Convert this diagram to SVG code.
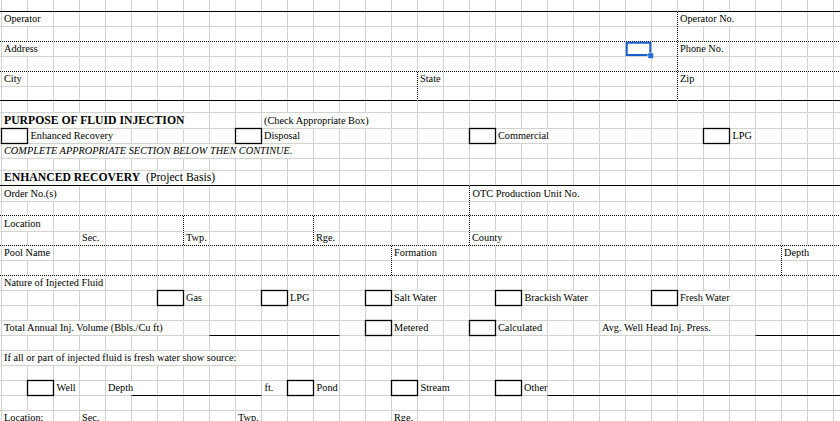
<svg xmlns="http://www.w3.org/2000/svg" width="840" height="421" viewBox="0 0 840 421">
<style>
.grid{stroke:#d2d2d2;stroke-width:1;fill:none}
.mask{fill:#fff}
.solid{stroke:#000;stroke-width:1.2;fill:none}
.ul{stroke:#000;stroke-width:1;fill:none}
.dotw{stroke:#fff;stroke-width:1;fill:none}
.dot{stroke:#000;stroke-width:1;stroke-dasharray:1 1;fill:none}
.box{stroke:#000;stroke-width:1.3;fill:none}
.t{font-family:"Liberation Serif","Times New Roman",serif;font-size:10.3px;fill:#000}
.b{font-family:"Liberation Serif","Times New Roman",serif;font-size:11.7px;font-weight:bold;fill:#000}
.r{font-weight:normal}
.i{font-style:italic}
</style>
<rect width="840" height="421" fill="#fff"/>
<g id="grid">
<path class="grid" d="M1.5 0V421M27.5 0V421M53.5 0V421M79.5 0V421M105.5 0V421M131.5 0V421M157.5 0V421M183.5 0V421M209.5 0V421M235.5 0V421M261.5 0V421M287.5 0V421M313.5 0V421M339.5 0V421M365.5 0V421M391.5 0V421M417.5 0V421M443.5 0V421M469.5 0V421M495.5 0V421M521.5 0V421M547.5 0V421M573.5 0V421M599.5 0V421M625.5 0V421M651.5 0V421M677.5 0V421M703.5 0V421M729.5 0V421M755.5 0V421M781.5 0V421M807.5 0V421M833.5 0V421"/>
<path class="grid" d="M0 26.5H840M0 56.5H840M0 86.5H840M0 112.5H840M0 128.5H840M0 143.5H840M0 158.5H840M0 170.5H840M0 201.5H840M0 231.5H840M0 260.5H840M0 290.5H840M0 305.5H840M0 320.5H840M0 335.5H840M0 350.5H840M0 365.5H840M0 380.5H840M0 395.5H840M0 410.5H840"/>
</g>
<g id="overflow-masks">
<rect class="mask" x="2" y="12" width="51" height="14"/>
<rect class="mask" x="678" y="12" width="77" height="14"/>
<rect class="mask" x="2" y="42" width="51" height="14"/>
<rect class="mask" x="678" y="42" width="51" height="14"/>
<rect class="mask" x="2" y="113" width="207" height="15"/>
<rect class="mask" x="262" y="113" width="129" height="15"/>
<rect class="mask" x="28" y="129" width="103" height="14"/>
<rect class="mask" x="262" y="129" width="51" height="14"/>
<rect class="mask" x="496" y="129" width="77" height="14"/>
<rect class="mask" x="2" y="144" width="311" height="14"/>
<rect class="mask" x="2" y="171" width="233" height="14"/>
<rect class="mask" x="2" y="186" width="77" height="15"/>
<rect class="mask" x="470" y="186" width="129" height="15"/>
<rect class="mask" x="2" y="216" width="51" height="15"/>
<rect class="mask" x="470" y="232" width="51" height="13"/>
<rect class="mask" x="2" y="246" width="51" height="14"/>
<rect class="mask" x="392" y="246" width="51" height="14"/>
<rect class="mask" x="782" y="246" width="51" height="14"/>
<rect class="mask" x="2" y="276" width="103" height="14"/>
<rect class="mask" x="392" y="291" width="51" height="14"/>
<rect class="mask" x="522" y="291" width="77" height="14"/>
<rect class="mask" x="678" y="291" width="77" height="14"/>
<rect class="mask" x="2" y="321" width="181" height="14"/>
<rect class="mask" x="392" y="321" width="51" height="14"/>
<rect class="mask" x="496" y="321" width="51" height="14"/>
<rect class="mask" x="600" y="321" width="129" height="14"/>
<rect class="mask" x="2" y="351" width="259" height="14"/>
<rect class="mask" x="106" y="381" width="51" height="14"/>
<rect class="mask" x="418" y="381" width="51" height="14"/>
<rect class="mask" x="2" y="411" width="51" height="10"/>
</g>
<g id="borders">
<path class="solid" d="M0 11.5H840M0 100.5H840M0 185.5H840"/>
<path class="dotw" d="M0 41.5H840M0 71.5H840M0 215.5H840M0 245.5H840M0 275.5H840M677.5 11.5V100.5M417.5 71.5V100.5M469.5 185.5V245.5M183.5 215.5V245.5M313.5 215.5V245.5M391.5 245.5V275.5M781.5 245.5V275.5"/>
<path class="dot" d="M0 41.5H840M0 71.5H840M0 215.5H840M0 245.5H840M0 275.5H840M677.5 12V100M417.5 72V100M469.5 186V245M183.5 216V245M313.5 216V245M391.5 246V275M781.5 246V275"/>
<path class="ul" d="M209.5 335.5H339.5M755.5 335.5H840M131.5 395.5H261.5M547.5 395.5H840"/>
</g>
<g id="checkboxes">
<rect class="box" x="1.5" y="128.5" width="26" height="15"/>
<rect class="box" x="235.5" y="128.5" width="26" height="15"/>
<rect class="box" x="469.5" y="128.5" width="26" height="15"/>
<rect class="box" x="703.5" y="128.5" width="26" height="15"/>
<rect class="box" x="157.5" y="290.5" width="26" height="15"/>
<rect class="box" x="261.5" y="290.5" width="26" height="15"/>
<rect class="box" x="365.5" y="290.5" width="26" height="15"/>
<rect class="box" x="495.5" y="290.5" width="26" height="15"/>
<rect class="box" x="651.5" y="290.5" width="26" height="15"/>
<rect class="box" x="365.5" y="320.5" width="26" height="15"/>
<rect class="box" x="469.5" y="320.5" width="26" height="15"/>
<rect class="box" x="27.5" y="380.5" width="26" height="15"/>
<rect class="box" x="287.5" y="380.5" width="26" height="15"/>
<rect class="box" x="391.5" y="380.5" width="26" height="15"/>
<rect class="box" x="495.5" y="380.5" width="26" height="15"/>
</g>
<g id="labels">
<text class="t" x="4" y="22">Operator</text>
<text class="t" x="680" y="22">Operator No.</text>
<text class="t" x="4" y="52">Address</text>
<text class="t" x="680" y="52">Phone No.</text>
<text class="t" x="4" y="82">City</text>
<text class="t" x="420" y="82">State</text>
<text class="t" x="680" y="82">Zip</text>
<text class="b" x="4" y="124">PURPOSE OF FLUID INJECTION</text>
<text class="t" x="264" y="124">(Check Appropriate Box)</text>
<text class="t" x="30.5" y="139">Enhanced Recovery</text>
<text class="t" x="264" y="139">Disposal</text>
<text class="t" x="498" y="139">Commercial</text>
<text class="t" x="732.5" y="139">LPG</text>
<text class="t i" x="4" y="154">COMPLETE APPROPRIATE SECTION BELOW THEN CONTINUE.</text>
<text class="b" x="4" y="181">ENHANCED RECOVERY <tspan class="r" x="146">(Project Basis)</tspan></text>
<text class="t" x="4" y="197">Order No.(s)</text>
<text class="t" x="472.5" y="197">OTC Production Unit No.</text>
<text class="t" x="4" y="227">Location</text>
<text class="t" x="82" y="241">Sec.</text>
<text class="t" x="186" y="241">Twp.</text>
<text class="t" x="316" y="241">Rge.</text>
<text class="t" x="472" y="241">County</text>
<text class="t" x="4" y="256">Pool Name</text>
<text class="t" x="394" y="256">Formation</text>
<text class="t" x="784" y="256">Depth</text>
<text class="t" x="4" y="286">Nature of Injected Fluid</text>
<text class="t" x="186" y="301">Gas</text>
<text class="t" x="290" y="301">LPG</text>
<text class="t" x="394" y="301">Salt Water</text>
<text class="t" x="524.5" y="301">Brackish Water</text>
<text class="t" x="680" y="301">Fresh Water</text>
<text class="t" x="4" y="331">Total Annual Inj. Volume (Bbls./Cu ft)</text>
<text class="t" x="394" y="331">Metered</text>
<text class="t" x="498" y="331">Calculated</text>
<text class="t" x="602" y="331">Avg. Well Head Inj. Press.</text>
<text class="t" x="4" y="361">If all or part of injected fluid is fresh water show source:</text>
<text class="t" x="56.5" y="391">Well</text>
<text class="t" x="108" y="391">Depth</text>
<text class="t" x="264.5" y="391">ft.</text>
<text class="t" x="316.5" y="391">Pond</text>
<text class="t" x="420.5" y="391">Stream</text>
<text class="t" x="524" y="391">Other</text>
<text class="t" x="4" y="421">Location:</text>
<text class="t" x="82" y="421">Sec.</text>
<text class="t" x="238" y="421">Twp.</text>
<text class="t" x="394" y="421">Rge.</text>
</g>
<g id="selection">
<rect x="626.7" y="42.7" width="23.6" height="12.3" fill="none" stroke="#1a5fcc" stroke-width="2"/>
<rect x="647.9" y="52.9" width="5.8" height="5.8" fill="#2a6ad4" stroke="#ffffff" stroke-width="0.6"/>
</g>
</svg>
